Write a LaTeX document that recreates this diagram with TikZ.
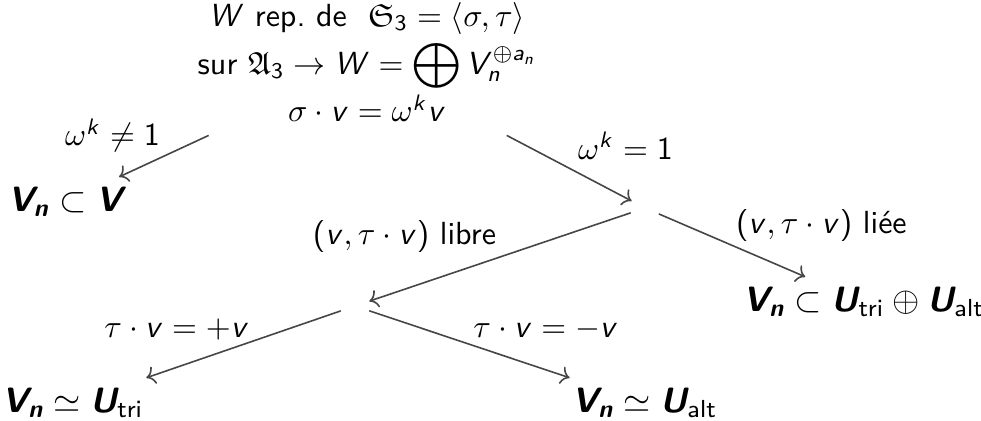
\documentclass[tikz,border=0pt]{standalone}
\usepackage{amsmath,amssymb}
\renewcommand{\familydefault}{\sfdefault}
% sans serif letters and digits in math, greek stays as is
\DeclareSymbolFont{sfletters}{OT1}{cmss}{m}{sl}
\SetSymbolFont{operators}{normal}{OT1}{cmss}{m}{n}
\makeatletter
\@tfor\x:=abcdefghijklmnopqrstuvwxyzABCDEFGHIJKLMNOPQRSTUVWXYZ\do{%
  \edef\tmp{\noexpand\DeclareMathSymbol{\x}{\noexpand\mathalpha}{sfletters}{`\x}}\tmp}
\makeatother
\usetikzlibrary{arrows.meta}
\definecolor{RepLine}{RGB}{70,70,70}
\newcommand{\bsf}[1]{\text{\bfseries\itshape #1}}
\tikzset{
  rep/top/.style={
    align=center,
    inner sep=4pt
  },
  rep/res/.style={
    inner sep=3pt,
    font=\fontsize{11}{13}\selectfont
  },
  rep/split/.style={circle, inner sep=0pt, minimum size=9pt},
  rep/arrow/.style={->, line width=0.5pt, draw=RepLine},
  rep/lbl/.style={inner sep=1pt}
}
\begin{document}
\begin{tikzpicture}[x=0.3125pt,y=-0.3125pt]
  \useasboundingbox (0,0) rectangle (981,421);
  \node[rep/top] (rep) at (367,62) {$W$ rep.\ de\ \ $\mathfrak{S}_3=\langle\sigma,\tau\rangle$\\[1pt]
    sur $\mathfrak{A}_3\to W=\displaystyle\bigoplus V_n^{\oplus a_n}$\\
    $\sigma\cdot v=\omega^k v$};
  \node[rep/res] (sub) at (65,202) {$\bsf{V}_{\bsf{n}}\subset\bsf{V}$};
  \node[rep/split] (s1) at (645,208) {};
  \node[rep/res] (sum) at (864,302) {$\bsf{V}_{\bsf{n}}\subset\bsf{U}_{\text{tri}}\oplus\bsf{U}_{\text{alt}}$};
  \node[rep/split] (s2) at (355,306) {};
  \node[rep/res] (tri) at (73,403) {$\bsf{V}_{\bsf{n}}\simeq\bsf{U}_{\text{tri}}$};
  \node[rep/res] (alt) at (645,403) {$\bsf{V}_{\bsf{n}}\simeq\bsf{U}_{\text{alt}}$};
  \draw[rep/arrow] (rep) -- node[rep/lbl,above left] {$\omega^k\neq1$} (sub);
  \draw[rep/arrow] (rep) -- node[rep/lbl,above right,inner sep=2.5pt] {$\omega^k=1$} (s1);
  \draw[rep/arrow] (s1) -- node[rep/lbl,above left] {$(v,\tau\cdot v)$ libre} (s2);
  \draw[rep/arrow] (s1) -- node[rep/lbl,above right] {$(v,\tau\cdot v)$ liée} (sum);
  \draw[rep/arrow] (s2) -- node[rep/lbl,above left,xshift=3pt] {$\tau\cdot v=+v$} (tri);
  \draw[rep/arrow] (s2) -- node[rep/lbl,above right] {$\tau\cdot v=-v$} (alt);
\end{tikzpicture}
\end{document}
